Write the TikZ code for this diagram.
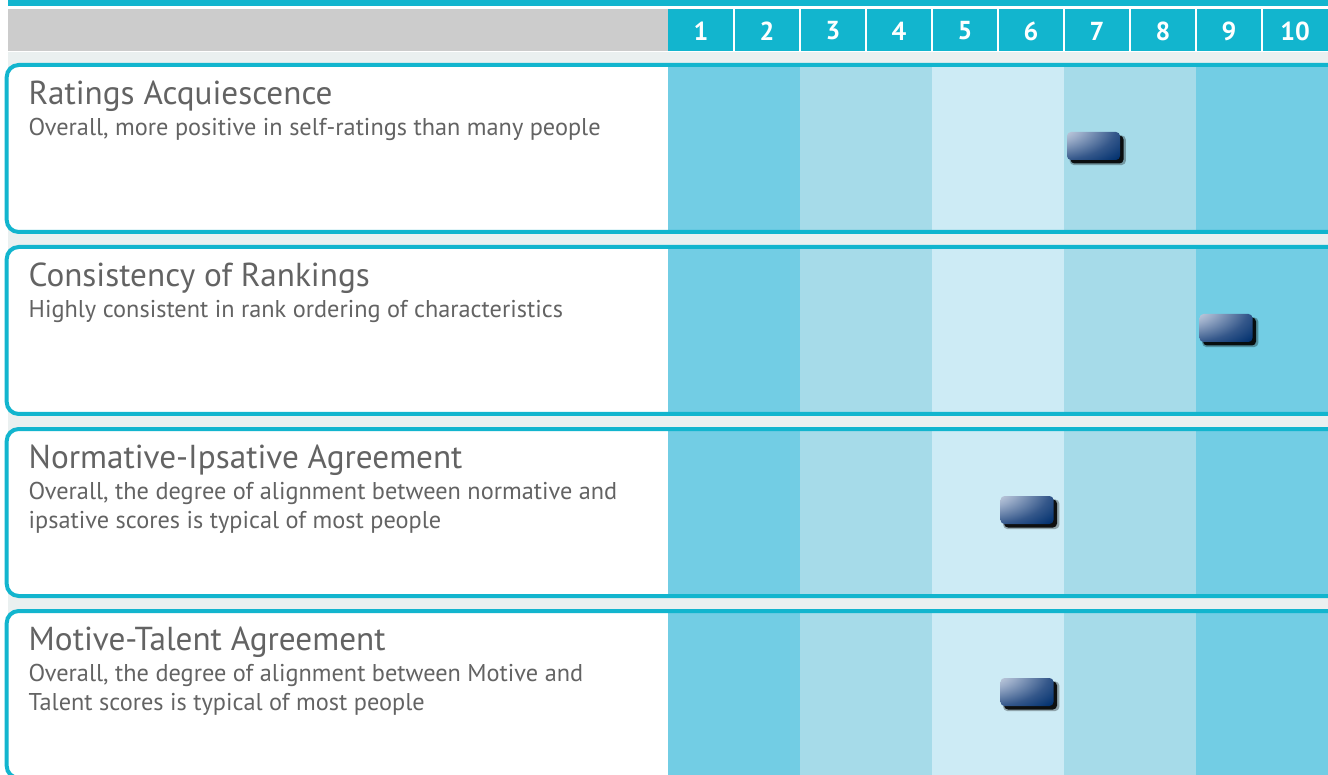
\documentclass[tikz,border=0pt]{standalone}
\usepackage{fontspec}
\setmainfont{PT Sans}
\usetikzlibrary{shadows}
\definecolor{cTeal}{HTML}{12B5CE}
\definecolor{cHead}{HTML}{CCCCCC}
\definecolor{cStrip}{HTML}{EAF0F0}
\definecolor{cBandA}{HTML}{72CDE4}
\definecolor{cBandB}{HTML}{A6DBE9}
\definecolor{cBandC}{HTML}{CDEBF5}
\definecolor{cText}{HTML}{636363}
\definecolor{cNavy}{HTML}{00306E}
\definecolor{mkW}{HTML}{F4F6F9}
\definecolor{mkA}{HTML}{9AACC8}
\definecolor{mkB}{HTML}{34578A}
\pgfdeclareradialshading{markershade}{\pgfpoint{-52bp}{46bp}}{color(0bp)=(white); color(10bp)=(mkW); color(34bp)=(mkA); color(58bp)=(mkB); color(76bp)=(cNavy); color(200bp)=(cNavy)}
\begin{document}
\begin{tikzpicture}[x=1pt,y=-1pt,
  titletext/.style={anchor=base west, inner sep=0pt, font=\fontsize{33.2}{38}\selectfont, text=cText},
  desctext/.style={anchor=base west, inner sep=0pt, font=\fontsize{24.3}{28}\selectfont, text=cText},
  numtext/.style={inner sep=0pt, font=\fontsize{26}{26}\selectfont\bfseries, text=white},
  panelborder/.style={draw=cTeal, line width=4pt, rounded corners=12pt},
  marker/.style={rectangle, rounded corners=4pt, minimum width=53pt, minimum height=28pt, inner sep=0pt,
    shading=markershade,
    general shadow={shadow xshift=4pt, shadow yshift=-4pt, shadow scale=1.06, fill=black, opacity=0.3},
    general shadow={shadow xshift=3.5pt, shadow yshift=-3.5pt, fill=black, opacity=0.9}},
]
\useasboundingbox (0,0) rectangle (1328,775);
\fill[white] (0,0) rectangle (1328,775);
% header
\fill[cTeal] (8,0) rectangle (1328,6);
\fill[cHead] (8,9) rectangle (668,50.7);
\fill[cTeal] (668,9) rectangle (1328,50.7);
\foreach \i in {1,...,9} {
  \fill[white] (668+66*\i-1,9) rectangle (668+66*\i+1,50.7);
}
\foreach \i in {1,...,10} {
  \node[numtext] (h\i) at (668+66*\i-33,31) {\i};
}
% background strip
\fill[cStrip] (8,52.3) rectangle (1328,775);
% panels
\foreach \T in {63,245,427,609} {
  \fill[white, rounded corners=12pt] (6.7,\T+2) rectangle (1340,\T+169);
  \fill[cBandA] (668,\T+2) rectangle (800,\T+169);
  \fill[cBandB] (800,\T+2) rectangle (932,\T+169);
  \fill[cBandC] (932,\T+2) rectangle (1064,\T+169);
  \fill[cBandB] (1064,\T+2) rectangle (1196,\T+169);
  \fill[cBandA] (1196,\T+2) rectangle (1328,\T+169);
  \draw[panelborder] (1340,\T+2) -- (6.7,\T+2) -- (6.7,\T+169) -- (1340,\T+169);
}
% texts
\node[titletext] (t1) at (28.5,104.5) {Ratings Acquiescence};
\node[desctext] (d1) at (28.5,135.5) {Overall, more positive in self-ratings than many people};
\node[titletext] (t2) at (28.5,286.5) {Consistency of Rankings};
\node[desctext] (d2) at (28.5,317.5) {Highly consistent in rank ordering of characteristics};
\node[titletext] (t3) at (28.5,468.5) {Normative-Ipsative Agreement};
\node[desctext] (d3a) at (28.5,499.5) {Overall, the degree of alignment between normative and};
\node[desctext] (d3b) at (28.5,528) {ipsative scores is typical of most people};
\node[titletext] (t4) at (28.5,650.5) {Motive-Talent Agreement};
\node[desctext] (d4a) at (28.5,681.5) {Overall, the degree of alignment between Motive and};
\node[desctext] (d4b) at (28.5,710) {Talent scores is typical of most people};
% markers
\node[marker] (m1) at (1093.5,146) {};
\node[marker] (m2) at (1226,328) {};
\node[marker] (m3) at (1027,510) {};
\node[marker] (m4) at (1027,692) {};
\end{tikzpicture}
\end{document}
